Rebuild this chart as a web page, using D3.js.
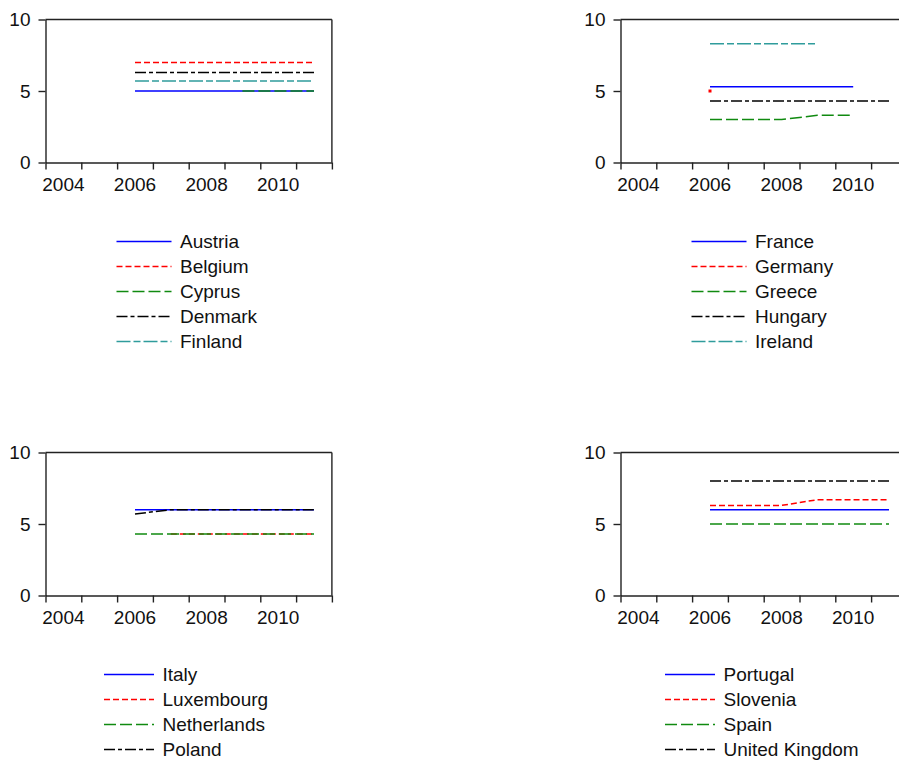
<!DOCTYPE html>
<html>
<head>
<meta charset="utf-8">
<script src="https://cdn.jsdelivr.net/npm/d3@7"></script>
<style>
  html, body { margin: 0; padding: 0; background: #fff; }
  svg text { font-family: "Liberation Sans", Arial, sans-serif; fill: #111; }
</style>
</head>
<body>
<svg id="chart" width="899" height="760"></svg>
<script>
// Annual periods on the x axis (each observation sits in the middle of its year)
const years = [2004, 2005, 2006, 2007, 2008, 2009, 2010, 2011];
const xTickLabels = ["2004", "2006", "2008", "2010"];
const yTicks = [0, 5, 10];

// Rates by country, aligned with `years` (null = no observation)
const austria     = [null, null, 5.0, 5.0, 5.0, 5.0, 5.0, 5.0];
const belgium     = [null, null, 7.0, 7.0, 7.0, 7.0, 7.0, 7.0];
const cyprus      = [null, null, null, null, null, 5.0, 5.0, 5.0];
const denmark     = [null, null, 6.3, 6.3, 6.3, 6.3, 6.3, 6.3];
const finland     = [null, null, 5.7, 5.7, 5.7, 5.7, 5.7, 5.7];

const france      = [null, null, 5.3, 5.3, 5.3, 5.3, 5.3, null];
const germany     = [null, null, 5.0, null, null, null, null, null];
const greece      = [null, null, 3.0, 3.0, 3.0, 3.3, 3.3, null];
const hungary     = [null, null, 4.3, 4.3, 4.3, 4.3, 4.3, 4.3];
const ireland     = [null, null, 8.3, 8.3, 8.3, 8.3, null, null];

const italy       = [null, null, 6.0, 6.0, 6.0, 6.0, 6.0, 6.0];
const luxembourg  = [null, null, null, 4.3, 4.3, 4.3, 4.3, 4.3];
const netherlands = [null, null, 4.3, 4.3, 4.3, 4.3, 4.3, 4.3];
const poland      = [null, null, 5.7, 6.0, 6.0, 6.0, 6.0, 6.0];

const portugal    = [null, null, 6.0, 6.0, 6.0, 6.0, 6.0, 6.0];
const slovenia    = [null, null, 6.3, 6.3, 6.3, 6.7, 6.7, 6.7];
const spain       = [null, null, 5.0, 5.0, 5.0, 5.0, 5.0, 5.0];
const unitedKingdom = [null, null, 8.0, 8.0, 8.0, 8.0, 8.0, 8.0];

// Line styles by position within a panel
const styles = [
  { color: "#0000ff", dash: null },
  { color: "#ff0000", dash: "6,3" },
  { color: "#108a10", dash: "12,4" },
  { color: "#000000", dash: "11,3,4,3" },
  { color: "#2f9c9c", dash: "14,3,7,3" }
];

const panels = [
  { left: 45, top: 19, legendDx: 71.5, legendLen: 55,
    series: [["Austria", austria], ["Belgium", belgium], ["Cyprus", cyprus], ["Denmark", denmark], ["Finland", finland]] },
  { left: 620, top: 19, legendDx: 71.5, legendLen: 55,
    series: [["France", france], ["Germany", germany], ["Greece", greece], ["Hungary", hungary], ["Ireland", ireland]] },
  { left: 45, top: 452, legendDx: 59, legendLen: 50,
    series: [["Italy", italy], ["Luxembourg", luxembourg], ["Netherlands", netherlands], ["Poland", poland]] },
  { left: 620, top: 452, legendDx: 45, legendLen: 50,
    series: [["Portugal", portugal], ["Slovenia", slovenia], ["Spain", spain], ["United Kingdom", unitedKingdom]] }
];

const plotW = 286.4, plotH = 143;
const axisColor = "#222";
const fontSize = 19;

const svg = d3.select("#chart");

const x = d3.scaleLinear().domain([years[0], years[years.length - 1] + 1]).range([0.5, plotW + 0.5]);
const y = d3.scaleLinear().domain([0, 10]).range([plotH + 0.5, 0.5]);
const xMid = yr => x(yr + 0.5);

panels.forEach(p => {
  const g = svg.append("g").attr("transform", `translate(${p.left},${p.top})`);

  // Series lines
  p.series.forEach(([name, vals], i) => {
    const st = styles[i];
    const pts = years.map((yr, k) => ({ yr, v: vals[k] }));
    const line = d3.line()
      .defined(d => d.v != null)
      .x(d => xMid(d.yr))
      .y(d => y(d.v));
    g.append("path")
      .datum(pts)
      .attr("d", line)
      .attr("fill", "none")
      .attr("stroke", st.color)
      .attr("stroke-width", 1.5)
      .attr("stroke-dasharray", st.dash);
    // Isolated observations are shown as a dot
    pts.forEach((d, k) => {
      if (d.v == null) return;
      const prev = k > 0 ? pts[k - 1].v : null;
      const next = k < pts.length - 1 ? pts[k + 1].v : null;
      if (prev == null && next == null) {
        g.append("rect")
          .attr("x", xMid(d.yr) - 1.5).attr("y", y(d.v) - 1.5)
          .attr("width", 3).attr("height", 3)
          .attr("fill", st.color);
      }
    });
  });

  // Frame: top and right borders
  g.append("line").attr("x1", x.range()[0]).attr("x2", x.range()[1]).attr("y1", 0.5).attr("y2", 0.5)
    .attr("stroke", axisColor).attr("stroke-width", 1.4);
  g.append("line").attr("x1", x.range()[1]).attr("x2", x.range()[1]).attr("y1", 0.5).attr("y2", y(0))
    .attr("stroke", axisColor).attr("stroke-width", 1.4);

  // Y axis
  const yAxis = g.append("g").attr("transform", "translate(0.5,0)")
    .call(d3.axisLeft(y).tickValues(yTicks).tickSize(7).tickSizeOuter(0).tickPadding(8).tickFormat(d3.format("d")));
  yAxis.selectAll("path, line").attr("stroke", axisColor).attr("stroke-width", 1.4);
  yAxis.selectAll("text").attr("font-size", fontSize).attr("fill", "#111")
    .style("font-family", '"Liberation Sans", Arial, sans-serif');

  // X axis: ticks at each year boundary
  const xAxis = g.append("g").attr("transform", `translate(0,${y(0)})`)
    .call(d3.axisBottom(x).tickValues(d3.range(years[0], years[years.length - 1] + 2)).tickSize(7).tickSizeOuter(0).tickFormat(""));
  xAxis.selectAll("path, line").attr("stroke", axisColor).attr("stroke-width", 1.4);

  // X labels centred on their year
  g.selectAll("text.xl").data(xTickLabels).enter().append("text")
    .attr("class", "xl")
    .attr("x", d => xMid(+d))
    .attr("y", plotH + 29)
    .attr("text-anchor", "middle")
    .attr("font-size", fontSize)
    .text(d => d);

  // Legend
  const lg = g.append("g").attr("transform", `translate(${p.legendDx},${plotH + 79.5})`);
  p.series.forEach(([name], i) => {
    const st = styles[i];
    const row = lg.append("g").attr("transform", `translate(0,${i * 25})`);
    row.append("line")
      .attr("x1", 0).attr("x2", p.legendLen).attr("y1", 0).attr("y2", 0)
      .attr("stroke", st.color).attr("stroke-width", 1.5)
      .attr("stroke-dasharray", st.dash);
    row.append("text")
      .attr("x", p.legendLen + 8.5)
      .attr("y", 0)
      .attr("dy", "0.36em")
      .attr("font-size", fontSize)
      .text(name);
  });
});
</script>
</body>
</html>
